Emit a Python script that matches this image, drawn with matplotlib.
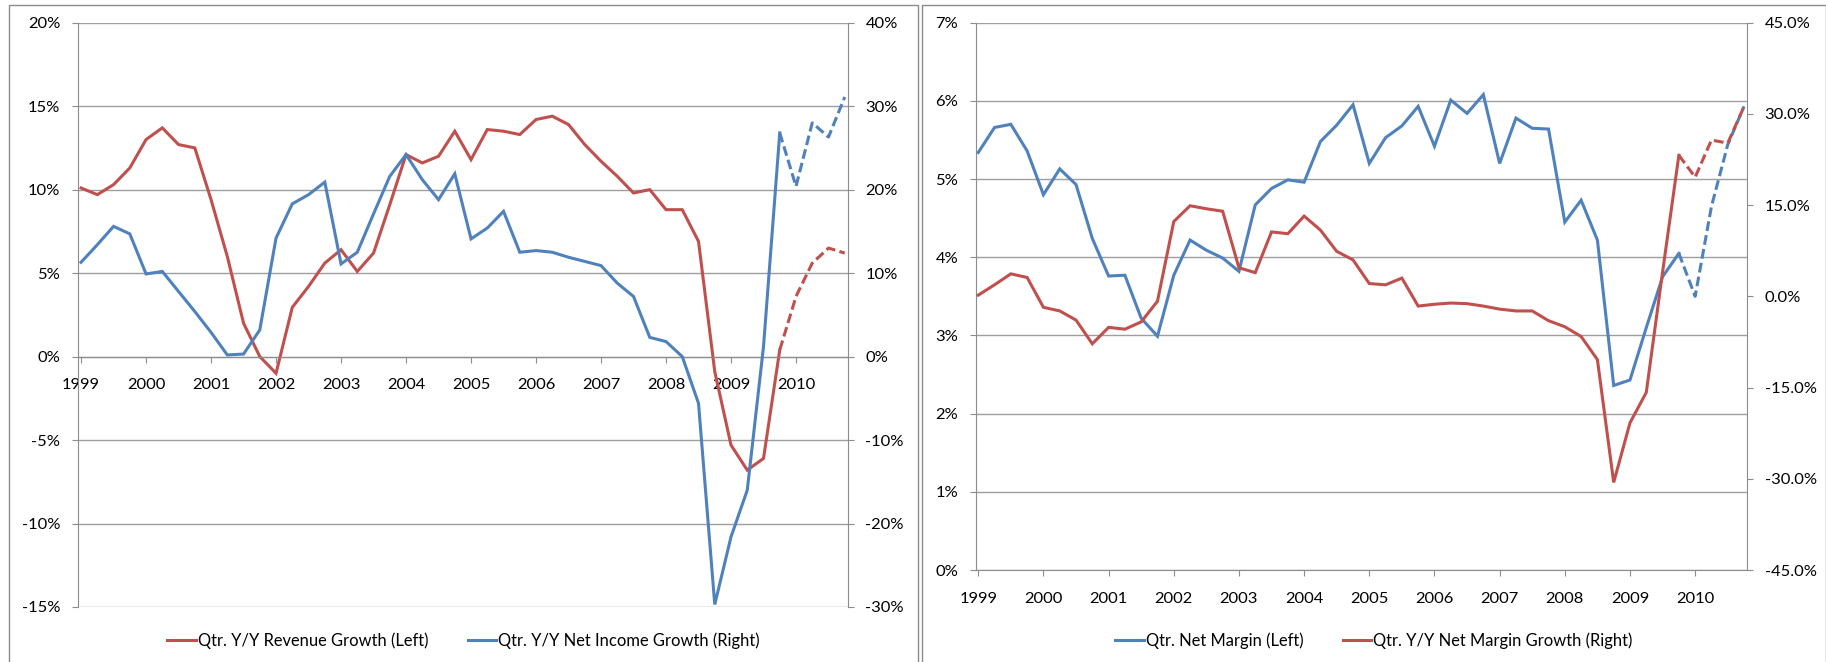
import matplotlib
matplotlib.use("Agg")
import matplotlib.pyplot as plt
from matplotlib.lines import Line2D
from matplotlib.ticker import FuncFormatter

plt.rcParams['font.family'] = ['Lato', 'DejaVu Sans']

# quarterly points, 1999 Q1 .. 2010 Q4; last 4 quarters are estimates (dashed)
quarters = list(range(48))
year_ticks = list(range(0, 48, 4))
year_labels = [str(y) for y in range(1999, 2011)]
last_actual = 43

revenue_growth = [10.1, 9.7, 10.3, 11.3, 13.0, 13.7, 12.7, 12.5, 9.4, 6.0, 2.0, 0.0,
                  -1.0, 2.95, 4.2, 5.6, 6.4, 5.1, 6.2, 9.1, 12.1, 11.6, 12.0, 13.5,
                  11.8, 13.6, 13.5, 13.3, 14.2, 14.4, 13.9, 12.7, 11.7, 10.8, 9.8, 10.0,
                  8.8, 8.8, 6.9, -0.9, -5.3, -6.8, -6.1, 0.4, 3.6, 5.6, 6.5, 6.2]
net_income_growth = [11.3, 13.4, 15.6, 14.7, 9.9, 10.2, 7.8, 5.4, 2.9, 0.2, 0.3, 3.2,
                     14.2, 18.3, 19.4, 20.9, 11.1, 12.5, 17.1, 21.6, 24.2, 21.2, 18.8, 21.9,
                     14.1, 15.4, 17.4, 12.5, 12.7, 12.5, 11.9, 11.4, 10.9, 8.8, 7.2, 2.3,
                     1.8, 0.0, -5.6, -29.7, -21.6, -16.0, 1.2, 26.8, 20.4, 28.0, 26.3, 31.1]
net_margin = [5.34, 5.66, 5.70, 5.36, 4.80, 5.13, 4.93, 4.24, 3.76, 3.77, 3.22, 2.99,
              3.77, 4.22, 4.09, 3.99, 3.82, 4.67, 4.88, 4.99, 4.96, 5.48, 5.69, 5.95,
              5.20, 5.53, 5.68, 5.93, 5.42, 6.01, 5.84, 6.08, 5.20, 5.78, 5.65, 5.64,
              4.45, 4.73, 4.22, 2.36, 2.43, 3.1, 3.75, 4.05, 3.5, 4.65, 5.44, 5.93]
net_margin_growth = [0.2, 1.9, 3.7, 3.1, -1.8, -2.4, -3.9, -7.8, -5.1, -5.4, -4.2, -0.8,
                     12.3, 14.9, 14.4, 14.0, 4.7, 3.9, 10.6, 10.3, 13.2, 10.9, 7.4, 6.0,
                     2.1, 1.9, 3.0, -1.6, -1.3, -1.1, -1.2, -1.6, -2.1, -2.4, -2.4, -4.0,
                     -5.0, -6.6, -10.4, -30.6, -20.8, -15.8, 4.0, 23.2, 19.6, 25.7, 25.2, 31.2]

RED = '#C0504D'
BLUE = '#4F81BD'
GRAY = '#8C8C8C'
GRID = '#9E9E9E'
LW = 2.2
W, H = 1826, 662

fig = plt.figure(figsize=(W / 100, H / 100), dpi=100)


def fit_size(sample, target_px, base=12.0):
    # pick a font size so that sample text is about target_px wide
    t = fig.text(0, 0, sample, fontsize=base)
    w = t.get_window_extent(renderer=fig.canvas.get_renderer()).width
    t.remove()
    return base * target_px / w


TICK_FS = fit_size('2000', 38)
LEG_FS = fit_size('Qtr. Y/Y Revenue Growth (Left)', 231)


def draw_series(ax, y, color):
    n = last_actual + 1
    ax.plot(quarters[:n], y[:n], color=color, lw=LW, solid_joinstyle='miter')
    ax.plot(quarters[last_actual:], y[last_actual:], color=color, lw=LW,
            dashes=(3.2, 1.4))


def style_axes(ax, axr, xlo):
    for sp in ('top', 'right'):
        ax.spines[sp].set_visible(False)
    for sp in ('top', 'left', 'bottom'):
        axr.spines[sp].set_visible(False)
    ax.spines['left'].set_color(GRAY)
    ax.spines['bottom'].set_color(GRAY)
    axr.spines['right'].set_color(GRAY)
    ax.set_xlim(xlo, 47.2)
    ax.set_xticks(year_ticks)
    ax.set_xticklabels(year_labels)
    ax.tick_params(axis='x', length=4.5, color=GRAY, pad=11, labelsize=TICK_FS)
    ax.tick_params(axis='y', length=4.5, color=GRAY, pad=8.5, labelsize=TICK_FS)
    axr.tick_params(axis='y', length=4.5, color=GRAY, pad=8, labelsize=TICK_FS)
    ax.yaxis.grid(True, color=GRID, lw=1.0)
    ax.set_axisbelow(True)


# ---- left chart: revenue growth vs net income growth
ax1 = fig.add_axes([78.3 / W, 1 - 607 / H, (848 - 78.3) / W, (607 - 22.7) / H])
ax1b = ax1.twinx()
ax1.set_ylim(-15, 20)
ax1.set_yticks(range(-15, 21, 5))
ax1.yaxis.set_major_formatter(FuncFormatter(lambda v, p: f"{v:.0f}%"))
ax1b.set_ylim(-30, 40)
ax1b.set_yticks(range(-30, 41, 10))
ax1b.yaxis.set_major_formatter(FuncFormatter(lambda v, p: f"{v:.0f}%"))
style_axes(ax1, ax1b, -0.17)
ax1.spines['bottom'].set_position(('data', 0))
draw_series(ax1, revenue_growth, RED)
draw_series(ax1b, net_income_growth, BLUE)

# ---- right chart: net margin vs net margin growth
ax2 = fig.add_axes([976.3 / W, 1 - 570 / H, (1747.3 - 976.3) / W, (570 - 22.7) / H])
ax2b = ax2.twinx()
ax2.set_ylim(0, 7)
ax2.set_yticks(range(0, 8))
ax2.yaxis.set_major_formatter(FuncFormatter(lambda v, p: f"{v:.0f}%"))
ax2b.set_ylim(-45, 45)
ax2b.set_yticks(range(-45, 46, 15))
ax2b.yaxis.set_major_formatter(FuncFormatter(lambda v, p: f"{v:.1f}%"))
style_axes(ax2, ax2b, -0.12)
draw_series(ax2, net_margin, BLUE)
draw_series(ax2b, net_margin_growth, RED)

# ---- legends
leg_kw = dict(loc='center', ncol=2, frameon=False, handlelength=1.7,
              handletextpad=0.12, columnspacing=2.4, fontsize=LEG_FS)
fig.legend([Line2D([], [], color=RED, lw=LW), Line2D([], [], color=BLUE, lw=LW)],
           ['Qtr. Y/Y Revenue Growth (Left)', 'Qtr. Y/Y Net Income Growth (Right)'],
           bbox_to_anchor=(463.5 / W, 1 - 640.7 / H), **leg_kw)
fig.legend([Line2D([], [], color=BLUE, lw=LW), Line2D([], [], color=RED, lw=LW)],
           ['Qtr. Net Margin (Left)', 'Qtr. Y/Y Net Margin Growth (Right)'],
           bbox_to_anchor=(1374 / W, 1 - 640.7 / H), **leg_kw)

# ---- chart area borders
top = 1 - 4.7 / H
for x0, x1 in [(9.3 / W, 918 / W), (922 / W, 1825.5 / W)]:
    fig.add_artist(Line2D([x0, x0, x1, x1], [0, top, top, 0], color=GRAY, lw=1.0,
                          transform=fig.transFigure))

fig.savefig('out.png', dpi=100)
plt.close(fig)
